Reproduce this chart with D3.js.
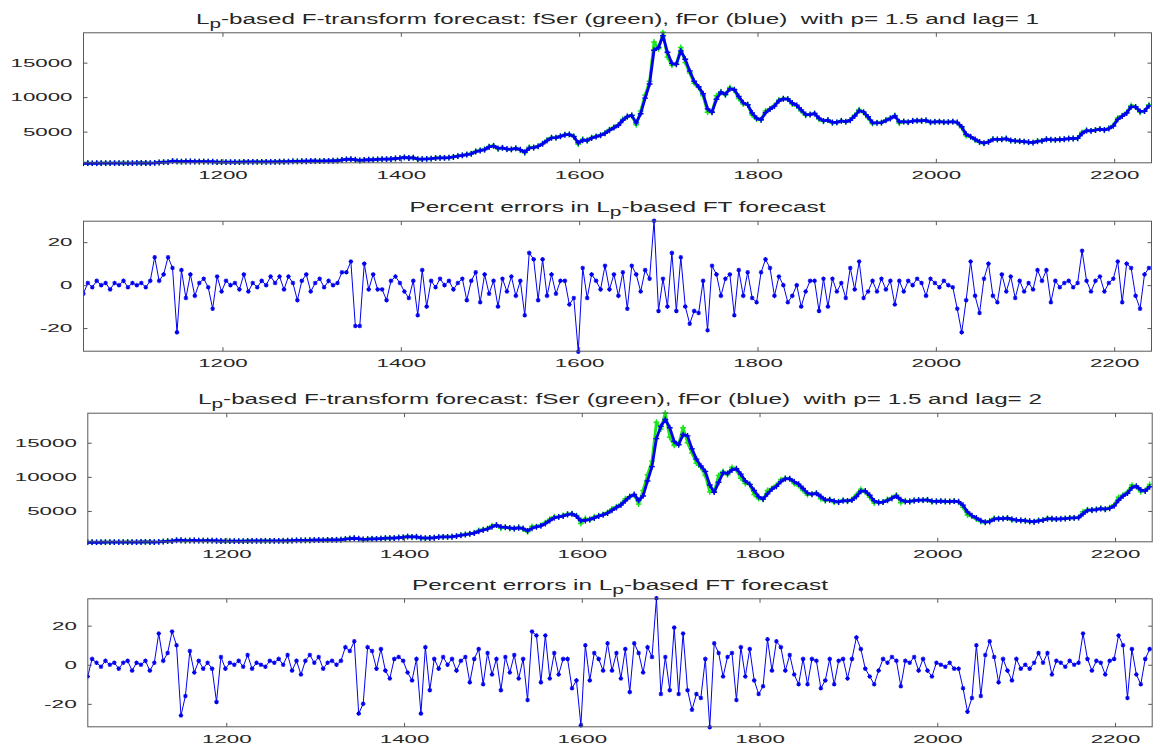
<!DOCTYPE html>
<html><head><meta charset="utf-8">
<script src="https://cdn.jsdelivr.net/npm/d3@7"></script>
<style>
body{margin:0;background:#fff}
svg{display:block}
text{font-family:"Liberation Sans", Arial, Helvetica, sans-serif; white-space:pre}
</style>
</head><body>
<svg id="c" width="1153" height="747"></svg>
<script>
// ---------------- DATA ----------------
const xStart = 1044, xStep = 5;
const xTicks = [1200, 1400, 1600, 1800, 2000, 2200];
const yTicksPrice = [5000, 10000, 15000];
const yTicksErr = [-20, 0, 20];
const titlePrice1 = "-based F-transform forecast: fSer (green), fFor (blue)\u00a0 with p= 1.5 and lag= 1";
const titlePrice2 = "-based F-transform forecast: fSer (green), fFor (blue)\u00a0 with p= 1.5 and lag= 2";
const titleErrA = "Percent errors in L";
const titleErrB = "-based FT forecast";

const fSer = [
412,414,408,418,424,420,422,425,429,449,
446,444,459,454,453,439,473,536,585,590,
766,670,630,676,670,650,663,665,655,624,
575,592,567,581,577,577,610,623,609,610,
604,605,610,617,637,630,650,714,686,711,
702,750,740,735,765,768,780,790,920,975,
1020,900,810,907,925,920,980,1025,1000,1035,
1120,1150,1280,1150,1240,970,1030,1045,1100,1190,
1210,1200,1240,1345,1480,1560,1690,1800,2160,2300,
2410,2860,2960,2470,2670,2430,2430,2610,2330,1930,
2750,2700,2900,3300,3800,4160,4100,4350,4580,4600,
4330,3150,3900,3670,4160,4300,4500,4800,5300,5640,
6000,6800,7100,7370,6000,8000,10300,12300,18000,17000,
19400,15800,14600,14800,17200,15000,13500,12000,11400,10200,
7800,7850,10200,10800,10300,11400,11000,9800,9000,8900,
7400,6800,6700,8000,8300,8800,9600,9800,9700,9000,
8700,8000,7350,7500,7650,6780,6500,6700,6250,6350,
6600,6400,6700,7400,8200,7750,7000,6150,6300,6300,
6700,6950,7350,6200,6500,6350,6580,6600,6570,6650,
6300,6450,6460,6350,6400,6450,6300,5550,4400,4250,
3800,3450,3300,3550,3950,3850,3900,4000,3650,3650,
3600,3550,3450,3400,3650,3650,3950,3800,3800,3870,
3900,4000,4000,4050,4900,5200,5100,5250,5400,5200,
5500,5900,7000,7300,7800,8800,8550,7800,8000,8900];

const fFor1 = [
410,413,409,416,423,421,422,424,428,445,
446,444,456,455,453,442,466,523,575,589,
731,689,638,667,671,654,660,665,657,630,
585,589,572,578,578,577,603,620,612,610,
605,605,609,616,633,631,646,701,692,706,
704,740,742,736,759,768,778,788,894,964,
1011,924,828,888,921,921,968,1016,1005,1028,
1103,1144,1254,1176,1222,1024,1018,1042,1089,1172,
1206,1202,1232,1324,1453,1544,1664,1778,2088,2250,
2388,2770,2940,2568,2630,2478,2430,2574,2386,2010,
2600,2690,2860,3220,3700,4080,4120,4300,4530,4590,
4280,3380,3750,3720,4060,4270,4460,4740,5200,5570,
5930,6640,7200,7360,6270,7600,9850,11900,16800,17200,
18900,16500,14900,14750,16700,15500,13800,12300,11500,10500,
8300,7800,9700,10700,10400,11200,11100,10100,9200,8900,
7700,6950,6720,7750,8250,8700,9450,9760,9720,9150,
8820,8150,7480,7470,7620,6950,6560,6660,6340,6330,
6550,6440,6640,7260,8040,7840,7150,6320,6270,6300,
6620,6900,7270,6430,6440,6380,6540,6600,6576,6634,
6370,6420,6458,6372,6390,6440,6330,5700,4630,4280,
3890,3520,3330,3500,3870,3870,3890,3980,3720,3650,
3610,3560,3470,3410,3600,3650,3890,3830,3800,3856,
3894,3980,4000,4040,4730,5140,5120,5220,5370,5240,
5440,5820,6780,7240,7700,8600,8600,7950,7960,8720];

const fFor2 = [
408,412,410,414,421,422,421,423,427,441,
447,445,453,456,454,445,459,510,566,588,
697,708,646,658,672,658,657,664,659,636,
595,586,577,575,579,577,596,617,615,610,
606,605,608,615,629,632,642,688,698,701,
706,730,744,737,753,767,776,786,868,953,
1002,948,846,869,917,922,956,1007,1010,1021,
1086,1138,1228,1202,1204,1078,1006,1039,1078,1154,
1202,1204,1224,1303,1426,1528,1638,1756,2016,2200,
2366,2680,2920,2666,2590,2526,2430,2538,2442,2090,
2450,2680,2820,3140,3600,4000,4140,4250,4480,4580,
4230,3610,3600,3770,3960,4240,4420,4680,5100,5500,
5860,6480,7100,7420,6540,7200,9400,11500,15600,17400,
18400,17200,15200,14700,16200,16000,14100,12600,11600,10800,
8800,7750,9200,10600,10500,11000,11200,10400,9400,8900,
8000,7100,6740,7500,8200,8600,9300,9720,9740,9300,
8940,8300,7610,7440,7590,7120,6620,6620,6430,6310,
6500,6480,6580,7120,7880,7930,7300,6490,6240,6300,
6540,6850,7190,6660,6380,6410,6500,6600,6582,6618,
6440,6390,6456,6394,6380,6430,6360,5850,4860,4310,
3980,3590,3360,3450,3790,3890,3880,3960,3790,3650,
3620,3570,3490,3420,3550,3650,3830,3860,3800,3842,
3888,3960,4000,4030,4560,5080,5140,5190,5340,5280,
5380,5740,6560,7180,7600,8400,8650,8100,7920,8540];

const err1 = [
-4,1,-1,2,0,1,-2,1,0,2,
-1,1,0,1,-1,2,13,2,5,13,
8,-22,7,-6,5,-5,1,3,-1,-11,
4,-3,2,0,1,-2,5,-3,1,-1,
2,0,4,1,4,-2,4,1,-7,2,
5,-3,1,3,-1,2,0,1,6,6,
11,-19,-19,10,-2,5,-2,-2,-7,2,
4,1,-3,-6,2,-14,7,-10,2,-1,
3,0,2,-2,1,3,-7,2,6,-8,
5,-4,2,-10,3,-3,4,-5,2,-14,
15,12,-7,12,-5,5,-4,2,2,-9,
-6,-31,8,-6,5,2,-2,9,-2,5,
-5,6,-11,9,5,-3,7,3,30,-12,
3,-10,15,-12,13,-10,-18,-12,-13,2,
-21,9,5,-5,3,5,-14,7,-5,6,
-6,-8,6,12,8,-5,4,0,-8,-5,
0,-10,-3,2,2,-12,3,-10,3,-3,
1,-6,8,-2,11,-6,-3,2,-3,3,
-2,2,-9,2,-3,2,0,3,1,-5,
3,1,-1,2,0,-1,-11,-22,-7,11,
-5,-13,3,10,-5,-8,5,-3,4,-6,
2,-3,1,-2,7,2,7,-8,2,-1,
1,2,-1,1,16,2,-3,2,4,-3,
1,3,11,-8,10,8,-5,-11,5,8];

const err2 = [
-6,3,1,-1,2,0,1,-2,1,2,
-3,1,0,2,-3,1,16,2,6,17,
10,-26,-16,7,-4,2,-2,1,-2,-19,
4,-2,1,0,2,-1,5,-2,1,0,
-1,2,1,3,0,5,-3,2,-5,2,
5,1,4,-2,1,2,0,2,9,7,
12,-25,-20,9,7,-2,8,-3,-7,3,
4,2,-4,-8,3,-25,9,-13,3,-2,
4,0,3,-3,2,4,-9,3,8,-10,
6,-5,3,-13,4,-4,5,-7,3,-18,
17,15,-9,15,-7,6,-5,3,3,-12,
-8,-31,10,-8,6,3,-3,11,-3,6,
-7,8,-14,11,6,-4,9,4,34,-15,
4,-13,19,-15,16,-13,-23,-15,-17,3,
-32,11,6,-6,4,6,-18,9,-6,8,
-8,-15,-11,13,-3,12,9,-3,5,-5,
-10,3,-10,3,2,-12,-8,3,-10,2,
3,-7,3,14,8,-2,-6,-10,-3,3,
1,4,2,-11,2,1,4,-3,3,-3,
-6,1,0,-1,1,-2,-2,-12,-24,-17,
10,-16,5,12,4,-9,3,-3,-8,3,
-2,0,-2,1,6,1,6,-5,2,1,
-1,2,0,1,16,3,-3,2,1,-5,
2,3,15,10,-17,8,-5,-10,3,8];

// ---------------- DRAWING ----------------
const svg = d3.select('#c');
const AX = '#595959', TX = '#262626';
const BLUE = '#0000f0', GREEN = '#19e619';
const xDomain = [1043.6, 2242.4];
const idx = fSer.map((_, i) => xStart + i * xStep);

const plusPath = s => `M${-s},0H${s}M0,${-s}V${s}`;
const starPath = s => `M${-s},0H${s}M0,${-s}V${s}M${-s*.7},${-s*.7}L${s*.7},${s*.7}M${-s*.7},${s*.7}L${s*.7},${-s*.7}`;

function labelLen(str) {
  let w = 0;
  for (const ch of str) w += (ch === '-') ? 8 : 12.4;
  return w;
}

function panel(p, seriesList, yTicks, titleCfg, id) {
  const x = d3.scaleLinear().domain(xDomain).range([p.left, p.right]);
  const allY = seriesList.flatMap(s => s.values);
  const y = d3.scaleLinear().domain(d3.extent(allY)).range([p.bottom, p.top]);
  const g = svg.append('g');

  g.append('clipPath').attr('id', 'clip' + id).append('rect')
    .attr('x', p.left).attr('y', p.top - 3)
    .attr('width', p.right - p.left).attr('height', p.bottom - p.top + 6);
  const plot = g.append('g').attr('clip-path', `url(#clip${id})`);

  seriesList.forEach(s => {
    const pts = s.values.map((v, i) => [idx[i], v]);
    const line = d3.line().x(d => x(d[0])).y(d => y(d[1]));
    plot.append('path').datum(pts).attr('d', line)
      .attr('fill', 'none').attr('stroke', s.color)
      .attr('stroke-width', s.lw).attr('stroke-linejoin', 'round');
    plot.append('g').selectAll('path').data(pts).join('path')
      .attr('transform', d => `translate(${x(d[0])},${y(d[1])})`)
      .attr('d', s.marker(s.ms))
      .attr('fill', 'none').attr('stroke', s.color).attr('stroke-width', s.mw);
  });

  // box
  g.append('rect').attr('x', p.left + 0.5).attr('y', p.top + 0.5)
    .attr('width', p.right - p.left - 1).attr('height', p.bottom - p.top - 1)
    .attr('fill', 'none').attr('stroke', AX).attr('stroke-width', 1);

  const tk = 4;
  const fmt = d => String(d);
  const axB = g.append('g').attr('transform', `translate(0,${p.bottom - 0.5})`)
    .call(d3.axisBottom(x).tickValues(xTicks).tickFormat(fmt).tickSizeInner(-tk).tickSizeOuter(0).tickPadding(7.5));
  const axT = g.append('g').attr('transform', `translate(0,${p.top + 0.5})`)
    .call(d3.axisTop(x).tickValues(xTicks).tickFormat('').tickSizeInner(-tk).tickSizeOuter(0));
  const axL = g.append('g').attr('transform', `translate(${p.left + 0.5},0)`)
    .call(d3.axisLeft(y).tickValues(yTicks).tickFormat(fmt).tickSizeInner(-tk).tickSizeOuter(0).tickPadding(11));
  const axR = g.append('g').attr('transform', `translate(${p.right - 0.5},0)`)
    .call(d3.axisRight(y).tickValues(yTicks).tickFormat('').tickSizeInner(-tk).tickSizeOuter(0));
  [axB, axT, axL, axR].forEach(a => {
    a.select('.domain').remove();
    a.selectAll('line').attr('stroke', AX);
    a.attr('font-family', null).attr('font-size', null);
    a.selectAll('text')
      .attr('fill', TX).attr('font-size', 11.6)
      .attr('font-family', '"Liberation Sans", Arial, sans-serif')
      .each(function () {
        const s = d3.select(this).text();
        if (s) d3.select(this).attr('textLength', labelLen(s)).attr('lengthAdjust', 'spacingAndGlyphs');
      });
  });

  // title
  const cx = (p.left + p.right) / 2;
  const t = svg.append('text').attr('x', cx).attr('y', p.top - 8.3)
    .attr('text-anchor', 'middle').attr('font-size', 14).attr('fill', TX)
    .attr('textLength', titleCfg.len).attr('lengthAdjust', 'spacingAndGlyphs');
  t.append('tspan').text(titleCfg.pre);
  t.append('tspan').attr('dy', 4).attr('font-size', 12).text('p');
  t.append('tspan').attr('dy', -4).text(titleCfg.post);
}

const P1 = {left: 83, right: 1152, top: 32.3, bottom: 163.3};
const P2 = {left: 83, right: 1152, top: 220.7, bottom: 351.7};
const P3 = {left: 87.3, right: 1152.7, top: 412.7, bottom: 542.3};
const P4 = {left: 87.3, right: 1152.7, top: 598.3, bottom: 727.3};

const priceStyle = (vals, color) => ({values: vals, color, lw: 2.8, marker: plusPath, ms: 2.9, mw: 1.4});
const errStyle = vals => ({values: vals, color: BLUE, lw: 1, marker: starPath, ms: 2.3, mw: 1.1});

panel(P1, [priceStyle(fSer, GREEN), priceStyle(fFor1, BLUE)], yTicksPrice,
      {pre: 'L', post: titlePrice1, len: 843}, 1);
panel(P2, [errStyle(err1)], yTicksErr,
      {pre: titleErrA, post: titleErrB, len: 416}, 2);
panel(P3, [priceStyle(fSer, GREEN), priceStyle(fFor2, BLUE)], yTicksPrice,
      {pre: 'L', post: titlePrice2, len: 844}, 3);
panel(P4, [errStyle(err2)], yTicksErr,
      {pre: titleErrA, post: titleErrB, len: 416}, 4);
</script>
</body></html>
